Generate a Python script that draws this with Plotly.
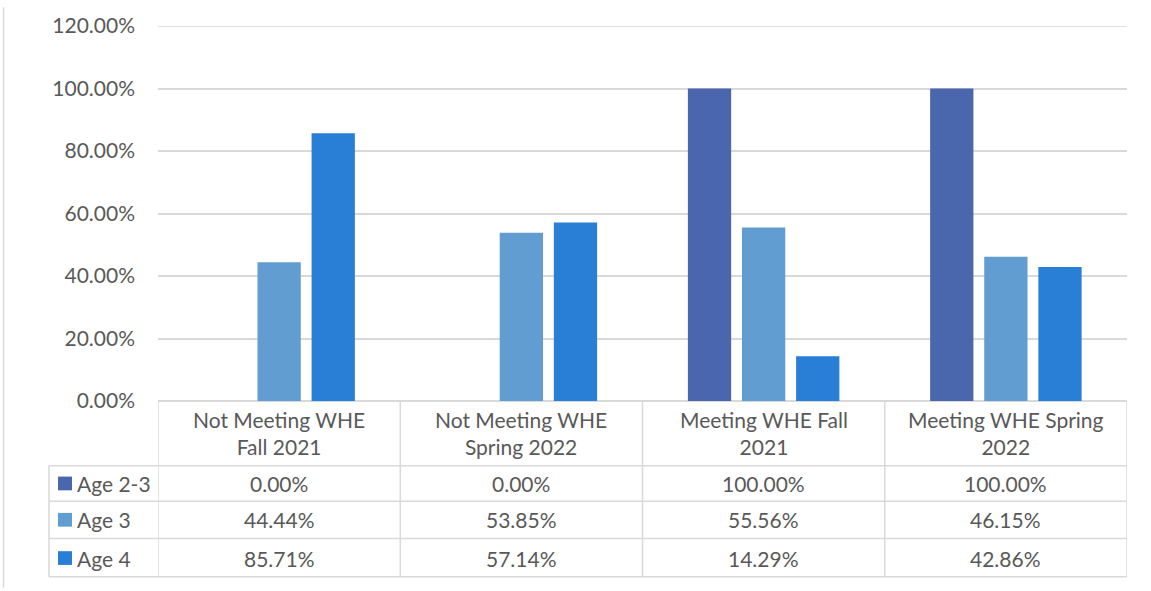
import plotly.graph_objects as go

categories = ["Not Meeting WHE<br>Fall 2021", "Not Meeting WHE<br>Spring 2022",
              "Meeting WHE Fall<br>2021", "Meeting WHE Spring<br>2022"]
series_names = ["Age 2-3", "Age 3", "Age 4"]
age_2_3 = [0.0, 0.0, 1.0, 1.0]
age_3 = [0.4444, 0.5385, 0.5556, 0.4615]
age_4 = [0.8571, 0.5714, 0.1429, 0.4286]
colors = ["#4a66ac", "#629dd1", "#297fd5"]

W, H = 1151, 591
L, R, T, B = 158, 24, 19, 190
ph = H - T - B
pw = W - L - R


def py(pix):
    # pixel row -> paper y
    return (H - B - pix) / ph


def px(pix):
    return (pix - L) / pw


FONT = "Lato, Open Sans, sans-serif"
TXT = "#595959"
LINE = "#d9d9d9"
FS = 21

fig = go.Figure()
all_vals = [age_2_3, age_3, age_4]
xs = list(range(len(categories)))
for name, vals, c in zip(series_names, all_vals, colors):
    fig.add_trace(go.Bar(x=xs, y=vals, name=name, marker=dict(color=c, line=dict(width=0))))

shapes = []
# top gridline (at the range edge, plotly does not draw it)
shapes.append(dict(type="line", xref="paper", yref="y", x0=0, x1=1, y0=1.2, y1=1.2,
                   line=dict(color=LINE, width=1.5), layer="below"))
# table horizontal lines
for yp in [467, 503, 541, 580]:
    shapes.append(dict(type="line", xref="paper", yref="paper", x0=px(49), x1=1, y0=py(yp), y1=py(yp),
                       line=dict(color=LINE, width=1.5)))
# vertical lines at category boundaries
for b in [-0.5, 0.5, 1.5, 2.5, 3.5]:
    shapes.append(dict(type="line", xref="x", yref="paper", x0=b, x1=b, y0=py(401), y1=py(580),
                       line=dict(color=LINE, width=1.5)))
shapes.append(dict(type="line", xref="paper", yref="paper", x0=px(49), x1=px(49), y0=py(467), y1=py(580),
                   line=dict(color=LINE, width=1.5)))
# outer chart border on the left
shapes.append(dict(type="line", xref="paper", yref="paper", x0=px(3.5), x1=px(3.5), y0=py(0), y1=py(591),
                   line=dict(color=LINE, width=1.5)))

annotations = []
for i, cat in enumerate(categories):
    annotations.append(dict(x=i, y=py(434), xref="x", yref="paper", text=cat, showarrow=False,
                            xanchor="center", yanchor="middle",
                            font=dict(size=FS, color=TXT, family=FONT), align="center"))
row_centers = [485, 522, 561]
for r, (name, vals, c) in enumerate(zip(series_names, all_vals, colors)):
    yc = row_centers[r]
    shapes.append(dict(type="rect", xref="paper", yref="paper", x0=px(58), x1=px(72),
                       y0=py(yc + 7), y1=py(yc - 7), fillcolor=c, line=dict(width=0)))
    annotations.append(dict(x=px(75), y=py(yc), xref="paper", yref="paper", text=name, showarrow=False,
                            xanchor="left", yanchor="middle", font=dict(size=FS, color=TXT, family=FONT)))
    for i, v in enumerate(vals):
        annotations.append(dict(x=i, y=py(yc), xref="x", yref="paper", text=f"{v * 100:.2f}%",
                                xanchor="center", yanchor="middle",
                                showarrow=False, font=dict(size=FS, color=TXT, family=FONT)))

fig.update_layout(
    width=W, height=H,
    margin=dict(l=L, r=R, t=T, b=B),
    paper_bgcolor="white", plot_bgcolor="white",
    barmode="group", bargap=0.33, bargroupgap=0.2,
    showlegend=False,
    font=dict(family=FONT, color=TXT, size=FS),
    xaxis=dict(range=[-0.5, 3.5], showticklabels=False, showgrid=False, zeroline=False,
               showline=False, ticks=""),
    yaxis=dict(range=[0, 1.2], dtick=0.2, tickformat=".2%", showgrid=True, gridcolor=LINE,
               gridwidth=1.5, zeroline=True, zerolinecolor=LINE, zerolinewidth=1.5,
               ticks="", ticklabelstandoff=22, tickfont=dict(size=FS, color=TXT, family=FONT)),
    shapes=shapes,
    annotations=annotations,
)

fig.write_html("out.html", config={"displayModeBar": False},
               post_script="document.body.style.margin='0';")
